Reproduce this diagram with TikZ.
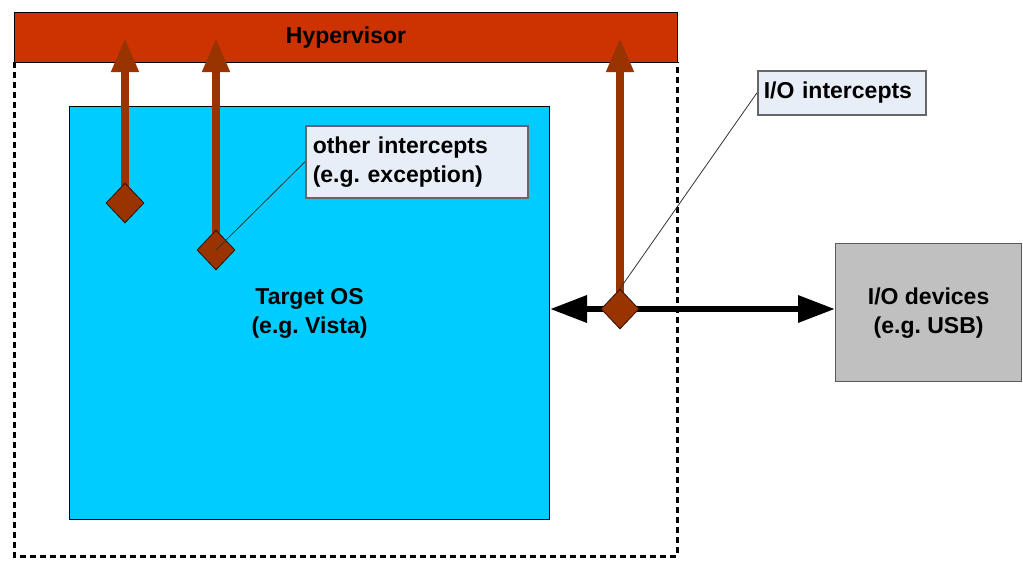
\documentclass[tikz,border=0pt]{standalone}
\usepackage{fontspec}
\setmainfont{Liberation Sans}
\usetikzlibrary{arrows.meta,shapes.geometric}
\frenchspacing
\definecolor{hyper}{HTML}{CC3300}
\definecolor{brownarr}{HTML}{993300}
\definecolor{osblue}{HTML}{00CCFF}
\definecolor{callfill}{HTML}{E8EEF8}
\definecolor{devgray}{HTML}{C0C0C0}
\tikzset{
  lbl/.style={font=\fontsize{23}{29}\selectfont\bfseries},
  callout/.style={draw=gray!80!black, line width=1.5pt, fill=callfill, inner sep=0pt, anchor=north west, align=left, lbl},
  dmd/.style={diamond, draw=black!70!brownarr, line width=0.8pt, fill=brownarr, inner sep=0pt, minimum width=38pt, minimum height=40pt},
  uparr/.style={draw=brownarr, line width=7.5pt, -{Triangle[length=34pt,width=26pt]}},
  leader/.style={draw=black!80, line width=0.8pt},
}
\begin{document}
\begin{tikzpicture}[x=1pt,y=-1pt]
\useasboundingbox (0,0) rectangle (1023,560);
% dashed machine boundary
\draw[line width=3pt, dash pattern=on 6pt off 4pt] (14,62) -- (14,556) -- (677,556) -- (677,62);
% hypervisor bar
\node[draw=black, line width=1pt, fill=hyper, minimum width=663pt, minimum height=50pt, inner sep=0pt, anchor=north west, lbl] (hv) at (14,12) {Hypervisor};
% target OS
\node[draw=black, line width=1pt, fill=osblue, minimum width=480pt, minimum height=413pt, inner sep=0pt, anchor=north west, lbl, align=center] (os) at (69,106) {Target OS\\(e.g. Vista)};
% IO devices
\node[draw=gray!70!black, line width=1.2pt, fill=devgray, minimum width=186pt, minimum height=138pt, inner sep=0pt, anchor=north west, lbl, align=center] (io) at (835,243) {I/O devices\\(e.g. USB)};
% tips
\coordinate (t1) at (125,38);
\coordinate (t2) at (216,38);
\coordinate (t3) at (620,38);
% diamonds positions
\coordinate (p1) at (125,203);
\coordinate (p2) at (216,250);
\coordinate (p3) at (620,309);
% double arrow
\draw[line width=6.5pt, {Triangle[length=37pt,width=26pt]}-{Triangle[length=37pt,width=26pt]}] (os.east |- p3) -- (io.west |- p3);
% up arrows
\draw[uparr] (p1) -- (t1);
\draw[uparr] (p2) -- (t2);
\draw[uparr] (p3) -- (t3);
% diamonds
\node[dmd] (d1) at (p1) {};
\node[dmd] (d2) at (p2) {};
\node[dmd] (d3) at (p3) {};
% callouts
\node[callout, minimum width=221pt, minimum height=72pt, text width=208pt, inner xsep=7pt, align=left] (c1) at (305,125) {other intercepts\\(e.g. exception)};
\node[callout, minimum width=166pt, minimum height=44pt, text width=156pt, inner xsep=6pt] (c2) at (757,70) {I/O intercepts};
\draw[leader] (c1.west) -- (d2.center);
\draw[leader] (c2.west) -- (d3.north);
\end{tikzpicture}
\end{document}
